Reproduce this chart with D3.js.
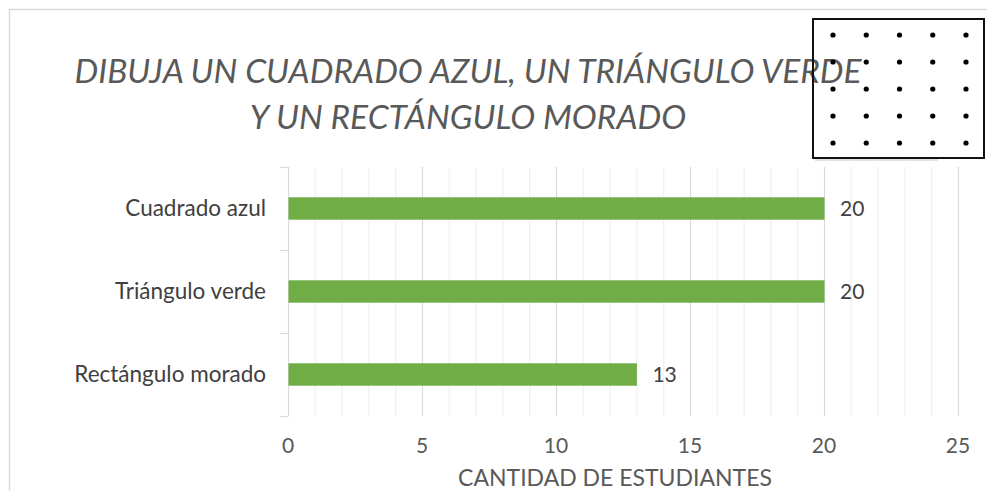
<!DOCTYPE html>
<html>
<head>
<meta charset="utf-8">
<script src="https://cdn.jsdelivr.net/npm/d3@7"></script>
<style>
  html, body { margin: 0; padding: 0; background: #fff; }
  svg { display: block; font-family: Lato, "Open Sans", sans-serif; }
</style>
</head>
<body>
<svg id="chart" width="987" height="491"></svg>
<script>
// Survey results: students who completed each drawing instruction
const categories = ["Cuadrado azul", "Triángulo verde", "Rectángulo morado"];
const values = [20, 20, 13];
const xTicks = [0, 5, 10, 15, 20, 25];
const titleLines = ["DIBUJA UN CUADRADO AZUL, UN TRIÁNGULO VERDE", "Y UN RECTÁNGULO MORADO"];
const xAxisTitle = "CANTIDAD DE ESTUDIANTES";
const dotGrid = d3.range(5); // 5 x 5 dot paper

const W = 987, H = 491;
const plot = { left: 288, right: 958, top: 167, bottom: 416 };
const textColor = "#404040";

const svg = d3.select("#chart");

// chart frame
svg.append("rect")
  .attr("x", 9.5).attr("y", 9.5)
  .attr("width", W).attr("height", H)
  .attr("fill", "none").attr("stroke", "#d9d9d9").attr("stroke-width", 1.5);

const x = d3.scaleLinear().domain([0, 25]).range([plot.left, plot.right]);
const y = d3.scaleBand().domain(categories).range([plot.top, plot.bottom]).paddingInner(0.73).paddingOuter(0.365);
const band = d3.scaleBand().domain(categories).range([plot.top, plot.bottom]);

// gridlines: minor every unit, major every 5
const grid = svg.append("g");
grid.selectAll("line.minor")
  .data(d3.range(1, 26).filter(v => v % 5 !== 0))
  .join("line")
  .attr("x1", d => x(d) + 0.5).attr("x2", d => x(d) + 0.5)
  .attr("y1", plot.top).attr("y2", plot.bottom)
  .attr("stroke", "#f0f0f0").attr("stroke-width", 1.2);
grid.selectAll("line.major")
  .data(xTicks.filter(v => v > 0))
  .join("line")
  .attr("x1", d => x(d) + 0.5).attr("x2", d => x(d) + 0.5)
  .attr("y1", plot.top).attr("y2", plot.bottom)
  .attr("stroke", "#d9d9d9").attr("stroke-width", 1.2);

// category axis with tick marks between bands
const yAxis = svg.append("g");
yAxis.append("line")
  .attr("x1", plot.left + 0.5).attr("x2", plot.left + 0.5)
  .attr("y1", plot.top).attr("y2", plot.bottom)
  .attr("stroke", "#d9d9d9").attr("stroke-width", 1.2);
const boundaries = [plot.top].concat(categories.map(c => band(c) + band.bandwidth()));
yAxis.selectAll("line.tick")
  .data(boundaries)
  .join("line")
  .attr("x1", plot.left - 8).attr("x2", plot.left + 0.5)
  .attr("y1", d => d + 0.5).attr("y2", d => d + 0.5)
  .attr("stroke", "#d9d9d9").attr("stroke-width", 1.2);
yAxis.selectAll("text")
  .data(categories)
  .join("text")
  .attr("x", plot.left - 22)
  .attr("y", d => band(d) + band.bandwidth() / 2)
  .attr("dy", "0.35em")
  .attr("text-anchor", "end")
  .attr("font-size", 22.5)
  .attr("fill", textColor)
  .text(d => d);

// bars
svg.append("g").selectAll("rect")
  .data(categories)
  .join("rect")
  .attr("x", x(0) + 0.5)
  .attr("y", d => y(d))
  .attr("width", (d, i) => x(values[i]) - x(0))
  .attr("height", y.bandwidth())
  .attr("fill", "#70ad47");

// value labels
svg.append("g").selectAll("text")
  .data(categories)
  .join("text")
  .attr("x", (d, i) => x(values[i]) + 16)
  .attr("y", d => y(d) + y.bandwidth() / 2)
  .attr("dy", "0.35em")
  .attr("font-size", 21)
  .attr("fill", textColor)
  .text((d, i) => values[i]);

// value axis labels
svg.append("g").selectAll("text")
  .data(xTicks)
  .join("text")
  .attr("x", d => x(d))
  .attr("y", 446)
  .attr("dy", "0.35em")
  .attr("text-anchor", "middle")
  .attr("font-size", 21)
  .attr("fill", "#595959")
  .text(d => d);

svg.append("text")
  .attr("x", (plot.left + plot.right) / 2 - 8)
  .attr("y", 478)
  .attr("dy", "0.35em")
  .attr("text-anchor", "middle")
  .attr("font-size", 23)
  .attr("fill", "#595959")
  .text(xAxisTitle);

// title
svg.append("g").selectAll("text")
  .data(titleLines)
  .join("text")
  .attr("x", 468)
  .attr("y", (d, i) => 71 + i * 46)
  .attr("dy", "0.35em")
  .attr("text-anchor", "middle")
  .attr("font-size", 33.5)
  .attr("font-style", "italic")
  .attr("fill", "#595959")
  .text(d => d);

// dot paper inset
const box = { x: 813, y: 19, w: 171, h: 139 };
svg.append("line")
  .attr("x1", box.x + 2).attr("x2", box.x + 125)
  .attr("y1", box.y + box.h + 2).attr("y2", box.y + box.h + 2)
  .attr("stroke", "#bfbfbf").attr("stroke-width", 1.5).attr("opacity", 0.6);
svg.append("rect")
  .attr("x", box.x).attr("y", box.y)
  .attr("width", box.w).attr("height", box.h)
  .attr("fill", "none").attr("stroke", "#111").attr("stroke-width", 2);
const dx = d3.scaleLinear().domain([0, 4]).range([box.x + 20, box.x + 153]);
const dy = d3.scaleLinear().domain([0, 4]).range([box.y + 16, box.y + 124]);
svg.append("g").selectAll("circle")
  .data(d3.cross(dotGrid, dotGrid))
  .join("circle")
  .attr("cx", d => dx(d[0]))
  .attr("cy", d => dy(d[1]))
  .attr("r", 2.6)
  .attr("fill", "#000");
</script>
</body>
</html>
